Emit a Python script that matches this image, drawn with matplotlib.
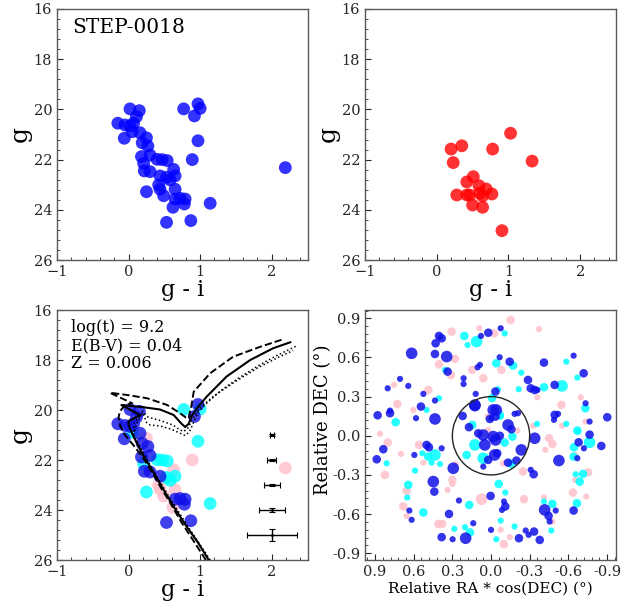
import matplotlib
matplotlib.use("Agg")
import matplotlib.pyplot as plt
from matplotlib.ticker import AutoMinorLocator, MultipleLocator, FuncFormatter
from matplotlib.patches import Circle

plt.rcParams['font.family'] = 'serif'
plt.rcParams['font.serif'] = ['DejaVu Serif']

# ---------------- data ----------------
# CMD stars (g - i, g) and class in lower-left panel (B=blue, C=cyan, P=pink)
cmd_gi = [0.02, 0.15, 0.11, -0.15, -0.05, 0.02, 0.07, 0.05, -0.06, 0.16, 0.25, 0.19, 0.27,
          0.18, 0.30, 0.40, 0.47, 0.54, 0.21, 0.22, 0.30, 0.63, 0.65, 0.44, 0.53, 0.42,
          0.58, 0.44, 0.65, 0.49, 0.25, 0.65, 0.72, 0.79, 0.78, 0.62, 0.53, 0.87, 1.14,
          2.19, 0.77, 0.97, 1.00, 0.92, 0.97, 0.89]
cmd_g = [19.98, 20.05, 20.29, 20.55, 20.62, 20.66, 20.55, 20.89, 21.15, 20.93, 21.13, 21.33, 21.46,
         21.88, 21.82, 21.99, 22.00, 22.04, 22.15, 22.45, 22.48, 22.39, 22.65, 22.65, 22.70, 23.01,
         22.81, 23.18, 23.18, 23.44, 23.28, 23.57, 23.54, 23.57, 23.77, 23.90, 24.50, 24.43, 23.74,
         22.32, 19.98, 19.78, 19.96, 20.26, 21.25, 22.00]
cmd_cls = ['B', 'B', 'B', 'B', 'B', 'B', 'B', 'C', 'B', 'B', 'P', 'B', 'B',
           'B', 'B', 'C', 'C', 'C', 'C', 'B', 'B', 'P', 'C', 'B', 'C', 'P',
           'C', 'P', 'P', 'P', 'C', 'B', 'B', 'B', 'B', 'P', 'B', 'B', 'C',
           'P', 'C', 'B', 'C', 'B', 'C', 'P']

# field stars (upper-right panel)
fld_gi = [1.03, 0.20, 0.35, 0.78, 0.23, 1.33, 0.51, 0.42, 0.59, 0.69, 0.28, 0.42, 0.46,
          0.60, 0.64, 0.77, 0.50, 0.64, 0.91]
fld_g = [20.95, 21.58, 21.45, 21.58, 22.12, 22.06, 22.68, 22.89, 23.04, 23.17, 23.41, 23.41, 23.41,
         23.34, 23.45, 23.37, 23.81, 23.90, 24.83]

# isochrones (g - i, g)
iso_solid_gi = [1.12, 0.97, 0.81, 0.66, 0.53, 0.42, 0.32, 0.21, 0.12, 0.05, 0.00, 0.00, 0.16, -0.10,
                0.21, 0.44, 0.63, 0.74, 0.79, 0.84, 0.88, 0.95, 1.09, 1.37, 1.70, 2.02, 2.26]
iso_solid_g = [26.0, 25.3, 24.66, 24.0, 23.39, 22.85, 22.35, 21.85, 21.35, 20.95, 20.6, 20.45, 20.2, 19.8,
               19.89, 19.98, 20.2, 20.55, 20.68, 20.55, 20.25, 19.95, 19.47, 18.66, 18.0, 17.53, 17.29]
iso_dash_gi = [1.08, 0.90, 0.74, 0.58, 0.45, 0.33, 0.20, 0.08, -0.05, -0.12, -0.14, -0.12, -0.05, 0.05,
               -0.26, -0.02, 0.26, 0.54, 0.72, 0.80, 0.84, 0.88, 0.91, 1.14, 1.46, 1.84, 2.16]
iso_dash_g = [26.0, 25.2, 24.5, 23.7, 23.1, 22.5, 21.9, 21.45, 21.0, 20.6, 20.3, 20.05, 19.8, 19.73,
              19.31, 19.4, 19.53, 19.8, 20.13, 20.3, 20.33, 19.8, 19.27, 18.53, 17.87, 17.47, 17.17]
iso_dot1_gi = [1.14, 0.83, 0.55, 0.34, 0.16, 0.07, 0.08, 0.20, 0.25, 0.30, 0.44, 0.60, 0.72, 0.79,
               0.85, 0.90, 0.97, 1.10, 1.30, 1.55, 1.80, 2.05, 2.36]
iso_dot1_g = [26.0, 24.66, 23.4, 22.4, 21.45, 21.0, 20.5, 20.1, 20.5, 20.6, 20.64, 20.77, 20.93, 21.02,
              20.88, 20.55, 20.1, 19.7, 19.2, 18.7, 18.25, 17.85, 17.42]
iso_dot2_gi = [0.07, 0.12, 0.20, 0.27, 0.44, 0.62, 0.72, 0.77, 0.83, 0.89, 1.00, 1.20, 1.50, 1.80,
               2.10, 2.30]
iso_dot2_g = [21.0, 20.5, 20.05, 20.28, 20.42, 20.6, 20.8, 20.86, 20.72, 20.38, 19.9, 19.42, 18.85, 18.32,
              17.88, 17.62]

# typical photometric errors
err_g = [21, 22, 23, 24, 25]
err_gi = [2.0, 2.0, 2.0, 2.0, 2.0]
err_x = [0.03, 0.06, 0.11, 0.18, 0.35]
err_y = [0.03, 0.04, 0.05, 0.08, 0.25]

# sky positions: relative RA*cos(DEC), relative DEC, class, size code (1 small, 2 mid, 3 large)
sky_ra = [0.306, 0.404, 0.383, 0.430, 0.207, 0.182, 0.112, 0.078, 0.091, 0.021, 0.616, 0.435, 0.344,
          0.280, 0.404, 0.357, 0.337, 0.311, 0.086, 0.104, 0.145, 0.060, 0.213, 0.213, 0.706, 0.753,
          0.802, 0.642, 0.487, 0.525, 0.404, 0.435, 0.727, 0.603, 0.544, 0.500, 0.784, 0.784, 0.880,
          0.740, 0.582, 0.435, 0.125, 0.119, 0.220, 0.145, 0.171, 0.026, 0.862,
          -0.152, -0.075, -0.106, -0.023, -0.372, -0.067, -0.041, -0.145, -0.171, -0.080, -0.411,
          -0.584, -0.641, -0.719, -0.670, -0.235, -0.287, -0.215, -0.308, -0.339, -0.360, -0.411,
          -0.494, -0.551, -0.360, -0.546, -0.696, -0.734, -0.732, -0.902, -0.765, -0.734, -0.670,
          -0.494, -0.520, -0.489, -0.584, -0.551, -0.357, -0.326, -0.183, -0.209, -0.034, -0.054,
          -0.008, -0.041, -0.075, -0.003, -0.132, -0.158, -0.204,
          0.802, 0.836, 0.887, 0.810, 0.823, 0.699, 0.595, 0.559, 0.500, 0.482, 0.533, 0.487, 0.435,
          0.383, 0.525, 0.461, 0.396, 0.590, 0.275, 0.293, 0.448, 0.440, 0.642, 0.655, 0.650, 0.681,
          0.634, 0.655, 0.616, 0.525, 0.300, 0.300, 0.337, 0.249, 0.326, 0.409, 0.378, 0.383, 0.298,
          0.285, 0.202, 0.163, 0.138, 0.197, 0.169, 0.073, 0.000, 0.189, 0.125, 0.060,
          -0.339, -0.450, -0.476, -0.421, -0.527, -0.248, -0.308, -0.331, -0.060, -0.111, 0.003,
          -0.101, -0.111, -0.085, -0.256, -0.075, -0.075, -0.041, -0.145, -0.183, -0.217, -0.269,
          -0.292, -0.334, -0.378, -0.411, -0.411, -0.476, -0.416, -0.447, -0.502, -0.455, -0.476,
          -0.468, -0.641, -0.667, -0.636, -0.739, -0.654, -0.657, -0.714, -0.753, -0.688, -0.675,
          -0.765, -0.856, -0.644, -0.680, -0.721, -0.765, -0.654, -0.670, -0.641, -0.235, -0.197,
          -0.132, -0.028, -0.106, -0.093, -0.100,
          0.125, -0.017, -0.035, 0.009, -0.068, 0.099, 0.061, 0.022, -0.017, -0.069, -0.166, 0.048,
          -0.035, 0.061, 0.022, -0.048, -0.155]
sky_dec = [0.798, 0.765, 0.747, 0.709, 0.765, 0.696, 0.722, 0.765, 0.824, 0.790, 0.632, 0.627, 0.607,
           0.589, 0.548, 0.505, 0.492, 0.466, 0.543, 0.525, 0.505, 0.441, 0.441, 0.397, 0.436, 0.390,
           0.364, 0.382, 0.351, 0.321, 0.288, 0.270, 0.244, 0.198, 0.224, 0.198, 0.193, 0.173, 0.157,
           0.104, 0.135, 0.129, 0.231, 0.321, 0.152, 0.083, 0.066, 0.147, 0.015,
           0.887, 0.824, 0.785, 0.785, 0.818, 0.602, 0.556, 0.568, 0.538, 0.505, 0.561,
           0.568, 0.614, 0.479, 0.446, 0.484, 0.428, 0.357, 0.364, 0.351, 0.351, 0.372,
           0.390, 0.382, 0.295, 0.237, 0.295, 0.249, 0.211, 0.142, 0.109, 0.109, 0.040,
           0.160, 0.168, 0.122, 0.091, 0.078, 0.091, 0.076, 0.168, 0.173, 0.339, 0.357,
           0.288, 0.198, 0.147, 0.135, 0.083, 0.050, 0.040,
           -0.052, -0.103, -0.180, -0.211, -0.300, -0.139, -0.147, -0.070, -0.070, -0.088, -0.134, -0.160, -0.147,
           -0.096, -0.206, -0.206, -0.216, -0.267, -0.216, -0.249, -0.351, -0.428, -0.376, -0.420, -0.473, -0.542,
           -0.573, -0.614, -0.644, -0.588, -0.338, -0.369, -0.415, -0.496, -0.599, -0.675, -0.675, -0.777, -0.793,
           -0.713, -0.701, -0.741, -0.670, -0.785, -0.530, -0.486, -0.721, -0.147, -0.070, -0.236,
           -0.019, -0.019, -0.063, -0.108, -0.190, -0.274, -0.261, -0.295, -0.369, -0.435, -0.461,
           -0.504, -0.542, -0.568, -0.486, -0.650, -0.721, -0.793, -0.777, -0.695, -0.785, -0.726,
           -0.759, -0.734, -0.798, -0.473, -0.504, -0.522, -0.568, -0.614, -0.573, -0.657, -0.657,
           -0.726, -0.573, -0.517, -0.435, -0.466, -0.338, -0.295, -0.292, -0.280, -0.351, 0.032,
           0.009, -0.078, -0.088, -0.050, -0.096, -0.050, -0.147, -0.172, -0.160, -0.108, -0.190,
           -0.206, -0.147, -0.052, -0.211, -0.830,
           0.236, 0.198, 0.147, 0.129, 0.160, 0.019, 0.006, 0.045, -0.006, 0.000, -0.006, -0.070,
           -0.032, -0.172, -0.185, -0.134, -0.215]
sky_cls = ['P', 'B', 'B', 'B', 'C', 'C', 'C', 'B', 'P', 'B', 'B', 'B', 'B',
           'P', 'P', 'C', 'B', 'P', 'B', 'B', 'P', 'P', 'B', 'B', 'B', 'P',
           'B', 'B', 'P', 'B', 'C', 'B', 'P', 'P', 'B', 'C', 'B', 'B', 'B',
           'C', 'B', 'B', 'B', 'B', 'B', 'C', 'B', 'P', 'P',
           'P', 'B', 'C', 'P', 'P', 'B', 'C', 'B', 'C', 'P', 'B',
           'C', 'B', 'B', 'C', 'C', 'B', 'C', 'B', 'B', 'B', 'C',
           'B', 'C', 'P', 'P', 'P', 'B', 'C', 'B', 'B', 'P', 'C',
           'B', 'B', 'B', 'C', 'P', 'C', 'P', 'B', 'B', 'B', 'C',
           'C', 'B', 'C', 'B', 'B', 'B', 'P',
           'P', 'B', 'B', 'C', 'P', 'P', 'B', 'P', 'B', 'B', 'C', 'C', 'C',
           'B', 'P', 'C', 'C', 'C', 'P', 'B', 'B', 'B', 'C', 'P', 'C', 'P',
           'B', 'P', 'B', 'C', 'P', 'P', 'P', 'B', 'B', 'P', 'P', 'B', 'B',
           'C', 'C', 'C', 'B', 'B', 'C', 'P', 'B', 'C', 'C', 'B',
           'B', 'P', 'P', 'P', 'B', 'P', 'B', 'B', 'C', 'C', 'B',
           'B', 'B', 'B', 'P', 'C', 'P', 'C', 'P', 'C', 'B', 'B',
           'B', 'B', 'B', 'P', 'C', 'C', 'B', 'B', 'B', 'B', 'P',
           'C', 'B', 'C', 'P', 'P', 'P', 'C', 'C', 'P', 'C', 'C',
           'B', 'B', 'C', 'B', 'B', 'C', 'P', 'B', 'C', 'B', 'B',
           'B', 'B', 'C', 'P', 'P',
           'B', 'B', 'B', 'B', 'C', 'B', 'B', 'P', 'B', 'B', 'C', 'B',
           'B', 'C', 'B', 'B', 'C']
sky_sz = [2, 2, 2, 2, 2, 1, 3, 1, 1, 2, 3, 2, 3,
          2, 2, 1, 2, 2, 1, 1, 2, 2, 1, 1, 1, 1,
          1, 1, 2, 1, 1, 1, 2, 1, 2, 1, 1, 2, 2,
          2, 1, 3, 3, 1, 2, 2, 2, 1, 1,
          2, 1, 1, 2, 1, 1, 2, 2, 2, 2, 2,
          1, 1, 2, 1, 1, 2, 1, 2, 2, 1, 2,
          2, 3, 1, 2, 1, 1, 2, 2, 1, 1, 2,
          2, 1, 1, 1, 1, 1, 1, 1, 1, 2, 1,
          2, 3, 1, 1, 3, 2, 1,
          2, 2, 2, 1, 2, 1, 1, 2, 2, 2, 1, 2, 3,
          1, 1, 1, 1, 1, 1, 3, 3, 2, 2, 2, 1, 2,
          1, 1, 1, 2, 2, 1, 1, 1, 2, 2, 2, 2, 1,
          1, 1, 2, 1, 3, 2, 3, 1, 2, 3, 1,
          3, 2, 2, 1, 3, 2, 1, 2, 2, 1, 2,
          1, 2, 1, 2, 1, 1, 1, 1, 1, 2, 1,
          1, 2, 2, 1, 1, 2, 3, 2, 1, 1, 1,
          1, 2, 2, 2, 1, 1, 1, 2, 2, 2, 1,
          2, 2, 2, 2, 1, 3, 1, 1, 2, 3, 2,
          2, 3, 2, 1, 2,
          3, 3, 2, 2, 2, 2, 3, 1, 3, 2, 2, 3,
          3, 3, 2, 2, 2]

# ---------------- styling ----------------
colors = {'B': '#1010e8', 'C': '#00ffff', 'P': '#ffc0cb'}
sizes = {1: 20, 2: 38, 3: 70}

fig = plt.figure(figsize=(6.41, 6.05), dpi=100)
W, H = 641.0, 605.0
def axpos(x0, y0, x1, y1):
    return [x0 / W, 1 - y1 / H, (x1 - x0) / W, (y1 - y0) / H]

ax1 = fig.add_axes(axpos(57, 9, 307.5, 260))
ax2 = fig.add_axes(axpos(365, 9, 616, 260))
ax3 = fig.add_axes(axpos(57, 310, 307.5, 560))
ax4 = fig.add_axes(axpos(365, 310, 616, 560))

def style(ax):
    for s in ax.spines.values():
        s.set_color('0.35')
        s.set_linewidth(1.0)
    ax.tick_params(which='both', direction='in', top=False, right=False, labelsize=10.5,
                   colors='0.15')
    ax.tick_params(which='major', length=4, width=0.8)
    ax.tick_params(which='minor', length=2, width=0.6)
    ax.xaxis.set_minor_locator(AutoMinorLocator(5))
    ax.yaxis.set_minor_locator(AutoMinorLocator(5))

def cmd_style(ax):
    ax.set_xlim(-1, 2.5)
    ax.set_ylim(26, 16)
    ax.xaxis.set_major_locator(MultipleLocator(1))
    ax.yaxis.set_major_locator(MultipleLocator(2))
    ax.set_xlabel('g - i', fontsize=16, labelpad=0)
    ax.set_ylabel('g', fontsize=18, labelpad=1)
    style(ax)

# top-left
ax1.scatter(cmd_gi, cmd_g, s=85, color='blue', alpha=0.8, edgecolors='none', zorder=3)
ax1.text(0.06, 0.965, 'STEP-0018', transform=ax1.transAxes, fontsize=14.5, va='top', ha='left')
cmd_style(ax1)

# top-right
ax2.scatter(fld_gi, fld_g, s=85, color='red', alpha=0.8, edgecolors='none', zorder=3)
cmd_style(ax2)

# bottom-left
for cl in ['P', 'C', 'B']:
    xs = [x for x, c in zip(cmd_gi, cmd_cls) if c == cl]
    ys = [y for y, c in zip(cmd_g, cmd_cls) if c == cl]
    ax3.scatter(xs, ys, s=85, color=colors[cl], alpha=0.8, edgecolors='none', zorder=2)
ax3.plot(iso_solid_gi, iso_solid_g, color='k', lw=1.5, zorder=4)
ax3.plot(iso_dash_gi, iso_dash_g, color='k', lw=1.4, ls='--', zorder=4)
ax3.plot(iso_dot1_gi, iso_dot1_g, color='k', lw=1.1, ls=':', zorder=4)
ax3.plot(iso_dot2_gi, iso_dot2_g, color='k', lw=1.1, ls=':', zorder=4)
ax3.errorbar(err_gi, err_g, xerr=err_x, yerr=err_y, fmt='.', color='k', ms=2,
             elinewidth=1.0, capsize=2, capthick=0.8, zorder=5)
ax3.text(0.055, 0.965, 'log(t) = 9.2\nE(B-V) = 0.04\nZ = 0.006', transform=ax3.transAxes,
         fontsize=11.5, va='top', ha='left', linespacing=1.1)
cmd_style(ax3)

# bottom-right
for cl in ['P', 'C', 'B']:
    idx = [i for i, c in enumerate(sky_cls) if c == cl]
    ax4.scatter([sky_ra[i] for i in idx], [sky_dec[i] for i in idx],
                s=[sizes[sky_sz[i]] for i in idx], color=colors[cl], alpha=0.85,
                edgecolors='none', zorder=2)
ax4.add_patch(Circle((0, 0), 0.3, fill=False, ec='0.15', lw=1.0, zorder=4))
ax4.set_xlim(0.978, -0.97)
ax4.set_ylim(-0.952, 0.964)
ax4.xaxis.set_major_locator(MultipleLocator(0.3))
ax4.yaxis.set_major_locator(MultipleLocator(0.3))
fmt = FuncFormatter(lambda v, p: '%.1f' % v if abs(v) > 1e-9 else '0.0')
ax4.xaxis.set_major_formatter(fmt)
ax4.yaxis.set_major_formatter(fmt)
ax4.set_xlabel('Relative RA * cos(DEC) (°)', fontsize=11, labelpad=2)
ax4.set_ylabel('Relative DEC (°)', fontsize=13)
ax4.yaxis.set_label_coords(-0.13, 0.56)
style(ax4)

fig.savefig('out.png', dpi=100)
